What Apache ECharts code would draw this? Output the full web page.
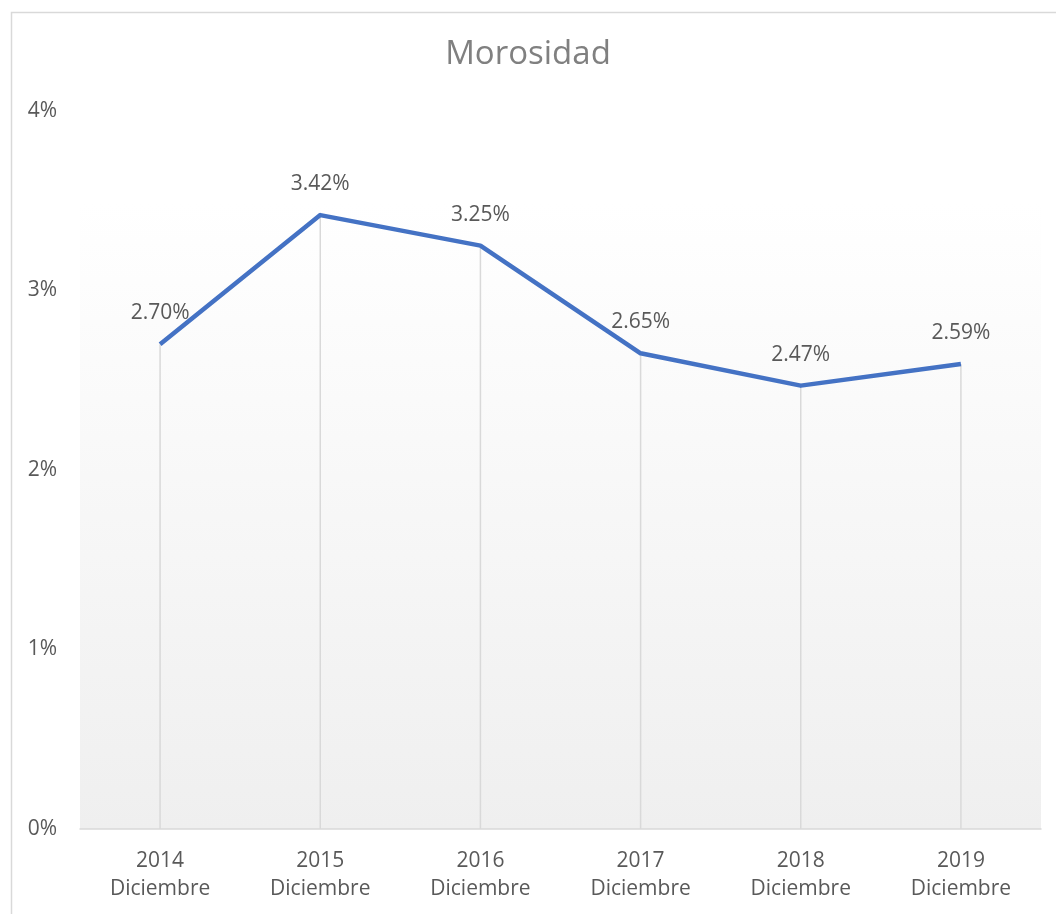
<!DOCTYPE html>
<html>
<head>
<meta charset="utf-8">
<title>Morosidad</title>
<script src="https://cdn.jsdelivr.net/npm/echarts@6/dist/echarts.min.js"></script>
<style>
  html, body { margin: 0; padding: 0; background: #ffffff; }
  #chart { width: 1056px; height: 914px; }
</style>
</head>
<body>
<div id="chart"></div>
<script>
// Delinquency ratio at each December close
const years = ['2014', '2015', '2016', '2017', '2018', '2019'];
const month = 'Diciembre';
const morosidad = [2.70, 3.42, 3.25, 2.65, 2.47, 2.59];
const yTicks = [0, 1, 2, 3, 4];

const FONT = '"Open Sans", "Noto Sans", sans-serif';
const categories = years.map(y => y + '\n' + month);

const chart = echarts.init(document.getElementById('chart'), null, { renderer: 'canvas' });

chart.setOption({
  backgroundColor: '#ffffff',
  animation: false,
  title: {
    text: 'Morosidad',
    left: 'center',
    top: 33,
    textStyle: { fontFamily: FONT, fontSize: 33, fontWeight: 'normal', color: '#808080' }
  },
  graphic: [
    {
      // outer chart frame
      type: 'rect',
      z: -10,
      shape: { x: 11.5, y: 12.5, width: 1100, height: 1000 },
      style: { fill: 'none', stroke: '#d9d9d9', lineWidth: 1.5 }
    },
    {
      // plot area shading
      type: 'rect',
      z: -9,
      shape: { x: 80, y: 203, width: 961, height: 626 },
      style: {
        fill: new echarts.graphic.LinearGradient(0, 0, 0, 1, [
          { offset: 0, color: '#ffffff' },
          { offset: 1, color: '#efefef' }
        ])
      }
    }
  ],
  grid: { left: 80, right: 15, top: 111, bottom: 85, containLabel: false },
  xAxis: {
    type: 'category',
    data: categories,
    boundaryGap: true,
    axisLine: { show: true, lineStyle: { color: '#d9d9d9', width: 1.5 } },
    axisTick: { show: false },
    splitLine: { show: false },
    axisLabel: {
      fontFamily: FONT,
      fontSize: 21,
      color: '#595959',
      lineHeight: 28,
      margin: 18,
      interval: 0
    }
  },
  yAxis: {
    type: 'value',
    min: yTicks[0],
    max: yTicks[yTicks.length - 1],
    interval: 1,
    axisLine: { show: false },
    axisTick: { show: false },
    splitLine: { show: false },
    axisLabel: {
      fontFamily: FONT,
      fontSize: 21,
      color: '#595959',
      margin: 23,
      formatter: v => v + '%'
    }
  },
  series: [
    {
      // drop lines from each point down to the category axis
      type: 'bar',
      data: morosidad,
      barWidth: 1.5,
      silent: true,
      z: 1,
      itemStyle: { color: '#d9d9d9' }
    },
    {
      type: 'line',
      data: morosidad,
      z: 3,
      symbol: 'circle',
      symbolSize: 1,
      itemStyle: { color: 'rgba(0,0,0,0)' },
      lineStyle: { color: '#4472c4', width: 4.5, join: 'round' },
      label: {
        show: true,
        position: 'top',
        distance: 20,
        fontFamily: FONT,
        fontSize: 21,
        color: '#595959',
        formatter: p => p.value.toFixed(2) + '%'
      }
    }
  ]
});
</script>
</body>
</html>
